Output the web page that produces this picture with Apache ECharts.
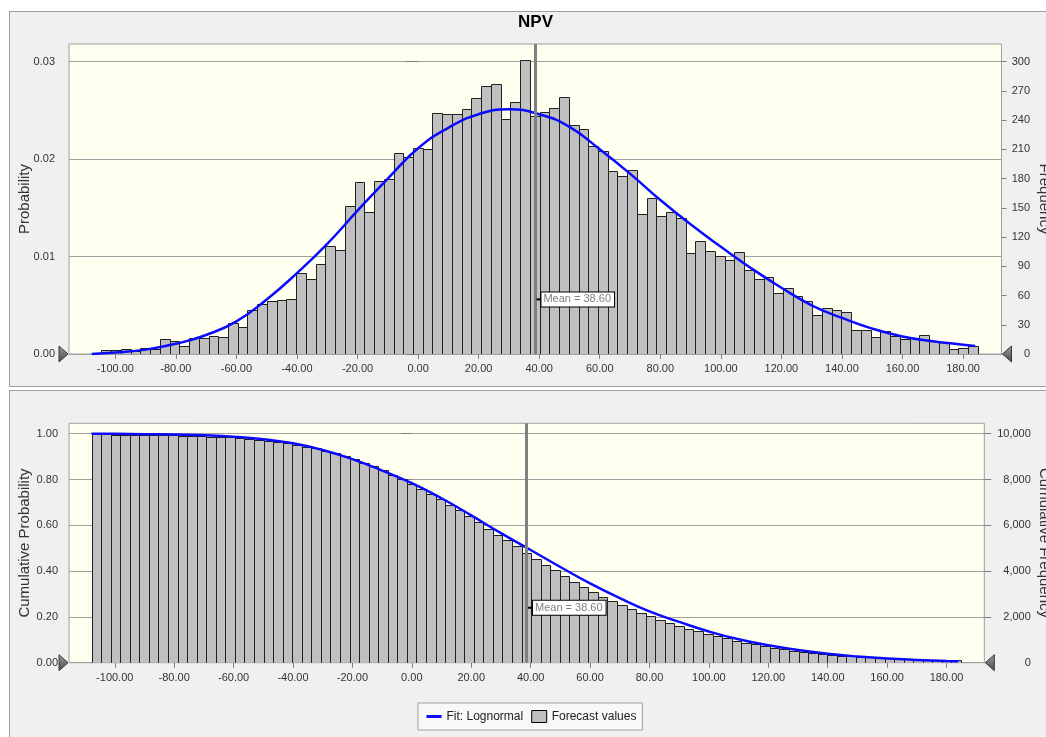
<!DOCTYPE html>
<html><head><meta charset="utf-8">
<script src="https://cdn.jsdelivr.net/npm/echarts@6.0.0/dist/echarts.min.js"></script>
<style>
html,body{margin:0;padding:0;background:#fff;width:1046px;height:737px;overflow:hidden;}
.panel{position:absolute;background:#f0f0f0;border:1px solid #a0a0a0;box-sizing:border-box;}
#p1{left:9px;top:11px;width:1050px;height:376px;}
#p2{left:9px;top:390px;width:1050px;height:360px;}
#chart{position:absolute;left:0;top:0;width:1046px;height:737px;}
</style></head><body>
<div class="panel" id="p1"></div><div class="panel" id="p2"></div>
<div id="chart"></div>
<script>
// ---------------- data ----------------
const binStart = -107.8;          // lower edge of first histogram bin
const binWidth = 3.216;           // bin width
const frequencies = [
  1, 4, 4, 5, 3, 6, 5, 15, 13, 8,
  16, 16, 18, 17, 32, 28, 45, 51, 54, 55,
  56, 83, 77, 92, 111, 107, 152, 176, 146, 177,
  180, 206, 202, 211, 210, 247, 246, 246, 251, 263,
  275, 277, 241, 259, 302, 244, 248, 252, 264, 235,
  231, 213, 208, 188, 183, 189, 144, 160, 142, 146,
  140, 104, 116, 106, 101, 96, 105, 86, 77, 79,
  63, 68, 59, 54, 40, 47, 45, 43, 25, 25,
  17, 24, 18, 15, 16, 19, 13, 12, 5, 6, 8
];
const countAboveRange = 100;      // trials beyond the displayed range (right tail)
const trials = 10000;

const fitX = [-107.8, -100, -90, -80, -70, -60, -50, -40, -30, -20, -10, 0, 10, 20, 30, 40, 50, 60, 70, 80, 90, 100, 110, 120, 130, 140, 150, 160, 170, 180, 184];
const fitFrequency = [0, 1.5, 4.5, 10.5, 19.5, 33.5, 56, 83, 113, 147, 180, 211, 232, 246, 251, 246, 233, 210, 185, 158, 133, 110, 88, 68, 50, 37, 26, 18, 13, 9.6, 8.2];

const cumFitX = [-107.8, -100, -90, -80, -70, -60, -50, -40, -30, -20, -10, 0, 10, 20, 30, 40, 50, 60, 70, 80, 90, 100, 110, 120, 130, 140, 150, 160, 170, 180, 184];
const cumFitProbability = [1.0, 0.9995, 0.998, 0.996, 0.993, 0.987, 0.976, 0.958, 0.929, 0.889, 0.839, 0.784, 0.718, 0.643, 0.566, 0.492, 0.418, 0.346, 0.282, 0.224, 0.178, 0.136, 0.102, 0.076, 0.055, 0.039, 0.027, 0.018, 0.012, 0.0075, 0.0065];

const meanValue = 38.60;
const xTickValues = [-100, -80, -60, -40, -20, 0, 20, 40, 60, 80, 100, 120, 140, 160, 180];
const probTicks = [0, 0.01, 0.02, 0.03];
const freqTicks = [0, 30, 60, 90, 120, 150, 180, 210, 240, 270, 300];
const cumProbTicks = [0, 0.2, 0.4, 0.6, 0.8, 1.0];
const cumFreqTicks = [0, 2000, 4000, 6000, 8000, 10000];

// ---------------- derived tables ----------------
const histData = frequencies.map((f, i) => [binStart + i * binWidth, f]);
const cumCounts = new Array(frequencies.length);
(function () {
  let acc = countAboveRange;
  for (let i = frequencies.length - 1; i >= 0; i--) { acc += frequencies[i]; cumCounts[i] = acc; }
})();
const cumData = cumCounts.map((c, i) => [binStart + i * binWidth, c]);
const fitData = fitX.map((x, i) => [x, fitFrequency[i]]);
const cumFitData = cumFitX.map((x, i) => [x, cumFitProbability[i]]);

// ---------------- chart ----------------
const FONT = '"Liberation Sans", Arial, sans-serif';
const TXT = '#333';
const X0MIN = -115.3, X0MAX = 192.7, X1MIN = -115.4, X1MAX = 192.7;

function renderBar(params, api) {
  const x0 = api.value(0), v = api.value(1);
  const p0 = api.coord([x0, v]);
  const p1 = api.coord([x0 + binWidth, 0]);
  return {
    type: 'rect',
    shape: { x: Math.round(p0[0]) + 0.5, y: Math.round(p0[1]) + 0.5, width: Math.round(p1[0]) - Math.round(p0[0]), height: Math.round(p1[1]) - Math.round(p0[1]) },
    style: { fill: '#c0c0c0', stroke: '#202020', lineWidth: 1 }
  };
}

function xAxisCfg(grid, min, max, margin) {
  return {
    gridIndex: grid, type: 'value', min: min, max: max,
    axisLine: { show: false },
    splitLine: { show: false },
    axisTick: { show: true, customValues: xTickValues, length: 5, lineStyle: { color: '#808080' } },
    axisLabel: { customValues: xTickValues, formatter: v => v.toFixed(2), color: TXT, fontSize: 11, fontFamily: FONT, margin: margin }
  };
}

function nameStyle() { return { fontSize: 15, color: TXT, fontFamily: FONT }; }

const chart = echarts.init(document.getElementById('chart'), null, { renderer: 'canvas' });

const option = {
  animation: false,
  backgroundColor: 'transparent',
  grid: [
    { left: 69, top: 44, width: 932.5, height: 310, show: true, backgroundColor: '#fffff0', borderColor: '#a0a0a0', borderWidth: 1, outerBoundsMode: 'none', containLabel: false },
    { left: 69, top: 423.3, width: 915.3, height: 239.4, show: true, backgroundColor: '#fffff0', borderColor: '#a0a0a0', borderWidth: 1, outerBoundsMode: 'none', containLabel: false }
  ],
  xAxis: [xAxisCfg(0, X0MIN, X0MAX, 9.5), xAxisCfg(1, X1MIN, X1MAX, 9.5)],
  yAxis: [
    {
      gridIndex: 0, type: 'value', position: 'left', min: 0, max: 0.0318, interval: 0.01,
      name: 'Probability', nameLocation: 'middle', nameGap: 37, nameRotate: 90, nameMoveOverlap: false,
      nameTextStyle: nameStyle(),
      axisLine: { show: false },
      axisTick: { show: true, customValues: probTicks, length: 12, lineStyle: { color: '#808080' } },
      axisLabel: { customValues: probTicks, formatter: v => v.toFixed(2), color: TXT, fontSize: 11, fontFamily: FONT, margin: 14 },
      splitLine: { show: true, lineStyle: { color: '#a0a0a0', width: 1 } }
    },
    {
      gridIndex: 0, type: 'value', position: 'right', min: 0, max: 318,
      name: 'Frequency', nameLocation: 'middle', nameGap: 35, nameRotate: -90, nameMoveOverlap: false,
      nameTextStyle: nameStyle(),
      axisLine: { show: false },
      axisTick: { show: true, customValues: freqTicks, length: 5, lineStyle: { color: '#808080' } },
      axisLabel: { customValues: freqTicks, color: TXT, fontSize: 11, fontFamily: FONT, margin: 28.5, align: 'right' },
      splitLine: { show: false }
    },
    {
      gridIndex: 1, type: 'value', position: 'left', min: 0, max: 1.0454, interval: 0.2,
      name: 'Cumulative Probability', nameLocation: 'middle', nameGap: 37, nameRotate: 90, nameMoveOverlap: false,
      nameTextStyle: nameStyle(),
      axisLine: { show: false },
      axisTick: { show: true, customValues: cumProbTicks, length: 10, lineStyle: { color: '#808080' } },
      axisLabel: { customValues: cumProbTicks, formatter: v => v.toFixed(2), color: TXT, fontSize: 11, fontFamily: FONT, margin: 11 },
      splitLine: { show: true, lineStyle: { color: '#a0a0a0', width: 1 } }
    },
    {
      gridIndex: 1, type: 'value', position: 'right', min: 0, max: 10454,
      name: 'Cumulative Frequency', nameLocation: 'middle', nameGap: 52, nameRotate: -90, nameMoveOverlap: false,
      nameTextStyle: nameStyle(),
      axisLine: { show: false },
      axisTick: { show: true, customValues: cumFreqTicks, length: 7, lineStyle: { color: '#808080' } },
      axisLabel: { customValues: cumFreqTicks, formatter: v => v.toLocaleString('en-US'), color: TXT, fontSize: 11, fontFamily: FONT, margin: 46.5, align: 'right' },
      splitLine: { show: false }
    }
  ],
  legend: {
    left: 418, top: 703, orient: 'horizontal', selectedMode: false,
    padding: [7, 6, 7, 7], itemGap: 8, itemWidth: 15, itemHeight: 12,
    backgroundColor: '#f8f8f8', borderColor: '#a0a0a0', borderWidth: 1,
    textStyle: { fontSize: 12, color: '#222', fontFamily: FONT },
    data: [
      { name: 'Fit: Lognormal', itemStyle: { opacity: 0 }, lineStyle: { color: '#0a0aff', width: 3 } },
      { name: 'Forecast values', icon: 'rect', itemStyle: { color: '#c0c0c0', borderColor: '#000', borderWidth: 1 } }
    ]
  },
  series: [
    {
      name: 'Forecast values', type: 'custom', xAxisIndex: 0, yAxisIndex: 1,
      renderItem: renderBar, data: histData, encode: { x: 0, y: 1 }, clip: true, z: 2,
      itemStyle: { color: '#c0c0c0', borderColor: '#000', borderWidth: 1 }
    },
    {
      name: 'mean-top', type: 'line', xAxisIndex: 0, yAxisIndex: 1, data: [], z: 3,
      markLine: {
        silent: true, symbol: 'none', label: { show: false },
        lineStyle: { color: '#808080', width: 3, type: 'solid' },
        data: [{ xAxis: meanValue }]
      },
      markPoint: {
        silent: true,
        data: [{
          coord: [meanValue, 56], symbol: 'rect', symbolSize: [5, 2], symbolOffset: [4, 0],
          itemStyle: { color: '#000' },
          label: {
            show: true, position: 'right', distance: 0, formatter: 'Mean = ' + meanValue.toFixed(2),
            color: '#808080', fontSize: 11, fontFamily: FONT, backgroundColor: '#fff',
            borderColor: '#000', borderWidth: 1, padding: [1, 3, 1, 2], lineHeight: 12
          }
        }]
      }
    },
    {
      name: 'Fit: Lognormal', type: 'line', xAxisIndex: 0, yAxisIndex: 1, data: fitData,
      smooth: true, showSymbol: false, symbol: 'none', z: 4,
      lineStyle: { color: '#0a0aff', width: 2.5 }, itemStyle: { color: '#0a0aff' }
    },
    {
      name: 'Forecast values', type: 'custom', xAxisIndex: 1, yAxisIndex: 3,
      renderItem: renderBar, data: cumData, encode: { x: 0, y: 1 }, clip: true, z: 2,
      itemStyle: { color: '#c0c0c0', borderColor: '#000', borderWidth: 1 }
    },
    {
      name: 'mean-bottom', type: 'line', xAxisIndex: 1, yAxisIndex: 3, data: [], z: 3,
      markLine: {
        silent: true, symbol: 'none', label: { show: false },
        lineStyle: { color: '#808080', width: 3, type: 'solid' },
        data: [{ xAxis: meanValue }]
      },
      markPoint: {
        silent: true,
        data: [{
          coord: [meanValue, 2400], symbol: 'rect', symbolSize: [5, 2], symbolOffset: [4, 0],
          itemStyle: { color: '#000' },
          label: {
            show: true, position: 'right', distance: 0, formatter: 'Mean = ' + meanValue.toFixed(2),
            color: '#808080', fontSize: 11, fontFamily: FONT, backgroundColor: '#fff',
            borderColor: '#000', borderWidth: 1, padding: [1, 3, 1, 2], lineHeight: 12
          }
        }]
      }
    },
    {
      name: 'Fit: Lognormal', type: 'line', xAxisIndex: 1, yAxisIndex: 2, data: cumFitData,
      smooth: true, showSymbol: false, symbol: 'none', z: 4,
      lineStyle: { color: '#0a0aff', width: 2.5 }, itemStyle: { color: '#0a0aff' }
    }
  ]
};
chart.setOption(option);

// decorations: title and the certainty grabber triangles at the axis ends
function tri(x, y, dir) {
  const pts = dir > 0 ? [[x - 10, y - 8], [x - 1, y], [x - 10, y + 8]] : [[x + 1, y], [x + 10, y - 8], [x + 10, y + 8]];
  return {
    type: 'polygon', z: 100, shape: { points: pts },
    style: {
      fill: new echarts.graphic.LinearGradient(0, 0, 0, 1, [{ offset: 0, color: '#9a9a9a' }, { offset: 1, color: '#4a4a4a' }]),
      stroke: '#3a3a3a', lineWidth: 1
    }
  };
}
const a = chart.convertToPixel({ xAxisIndex: 0, yAxisIndex: 1 }, [X0MIN, 0]);
const b = chart.convertToPixel({ xAxisIndex: 0, yAxisIndex: 1 }, [X0MAX, 0]);
const c = chart.convertToPixel({ xAxisIndex: 1, yAxisIndex: 3 }, [X1MIN, 0]);
const d = chart.convertToPixel({ xAxisIndex: 1, yAxisIndex: 3 }, [X1MAX, 0]);
chart.setOption({
  graphic: [
    { type: 'text', x: 535.5, y: 22, z: 100, style: { text: 'NPV', font: 'bold 17px ' + FONT, fill: '#000', textAlign: 'center', textVerticalAlign: 'middle' } },
    tri(a[0], a[1], 1), tri(b[0], b[1], -1), tri(c[0], c[1], 1), tri(d[0], d[1], -1)
  ]
});
</script>
</body></html>
